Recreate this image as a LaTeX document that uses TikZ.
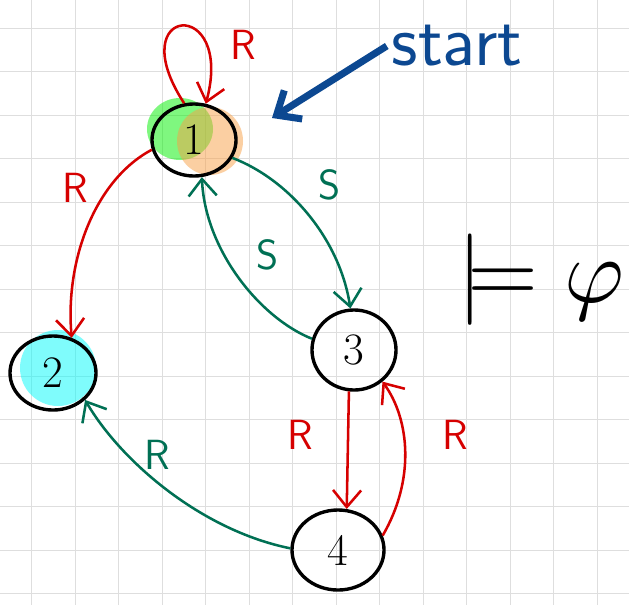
\documentclass[tikz,border=0pt]{standalone}
\usepackage{graphicx}
\usetikzlibrary{shapes.geometric,arrows.meta}
\definecolor{penred}{RGB}{214,0,0}
\definecolor{pengreen}{RGB}{0,112,84}
\definecolor{penblue}{RGB}{12,72,145}
\definecolor{gridgray}{RGB}{222,222,222}
\definecolor{hlgreen}{RGB}{0,240,0}
\definecolor{hlorange}{RGB}{248,160,70}
\definecolor{hlcyan}{RGB}{0,250,250}
\begin{document}
\begin{tikzpicture}[x=0.025cm,y=-0.025cm,
  state/.style={ellipse,draw,line width=2.4pt,minimum width=2.1cm,minimum height=1.8cm,inner sep=0pt,font=\fontsize{32}{34}\selectfont},
  trans/.style={line width=1.8pt,-{Straight Barb[length=12pt,width=20pt,line width=1.8pt]}},
  lab/.style={font=\sffamily\fontsize{30}{32}\selectfont},
  hl/.style={fill opacity=0.5}]
\useasboundingbox (0,0) rectangle (629,605);
\fill[white] (0,0) rectangle (629,605);

% squared paper
\foreach \g in {0,...,13} {
  \draw[gridgray,line width=0.8pt] ({31.7+43.5*\g},0) -- ({31.7+43.5*\g},605);
  \draw[gridgray,line width=0.8pt] (0,{28.3+43.5*\g}) -- (629,{28.3+43.5*\g});
}

\coordinate (A) at (194,140);
\coordinate (B) at (53,373);
\coordinate (C) at (354,350);
\coordinate (D) at (338,550);

% highlighter marks
\fill[hlgreen,hl] (180,129) ellipse [x radius=33,y radius=31];
\fill[hlorange,hl] (210,141) ellipse [x radius=33,y radius=34];
\fill[hlcyan,hl] (58,368) ellipse [x radius=38,y radius=38];

\node[state] (s1) at (A) {1};
\node[state,minimum width=2.15cm,minimum height=1.85cm] (s2) at (B) {2};
\node[state,minimum height=2cm] (s3) at (C) {3};
\node[state,minimum width=2.3cm,minimum height=2cm] (s4) at (D) {4};

% transitions
\draw[trans,penred] (s1.105) .. controls (120,5) and (235,-5) .. (s1.72);
\draw[trans,penred] (s1.193) .. controls (95,180) and (65,260) .. (s2.62);
\draw[trans,pengreen] (s1.-25) .. controls (290,180) and (340,240) .. (s3.95);
\draw[trans,pengreen] (s3.165) .. controls (260,318) and (205,250) .. (s1.-78);
\draw[trans,penred] (s3.-97) -- (s4.78);
\draw[trans,penred] (s4.18) .. controls (415,480) and (410,420) .. (s3.-48);
\draw[trans,pengreen] (s4.178) .. controls (200,530) and (120,460) .. (s2.-40);

\node[lab,penred] (r11) at (243,45) {R};
\node[lab,penred] (r12) at (75,188) {R};
\node[lab,pengreen] (s13) at (330,185) {S};
\node[lab,pengreen] (s31) at (268,255) {S};
\node[lab,penred] (r34) at (300,435) {R};
\node[lab,penred] (r43) at (455,435) {R};
\node[lab,pengreen] (r42) at (157,455) {R};

% initial state
\node[penblue,font=\sffamily\fontsize{52}{54}\selectfont] (start) at (457,46) {start};
\coordinate (T) at (272,118);
\draw[penblue,line width=5pt,-{Straight Barb[length=14pt,width=24pt,line width=5pt]}] (start.west) -- (T);

\node (phi) at (541,280) {\scalebox{6.5}{$\models\varphi$}};
\end{tikzpicture}
\end{document}
